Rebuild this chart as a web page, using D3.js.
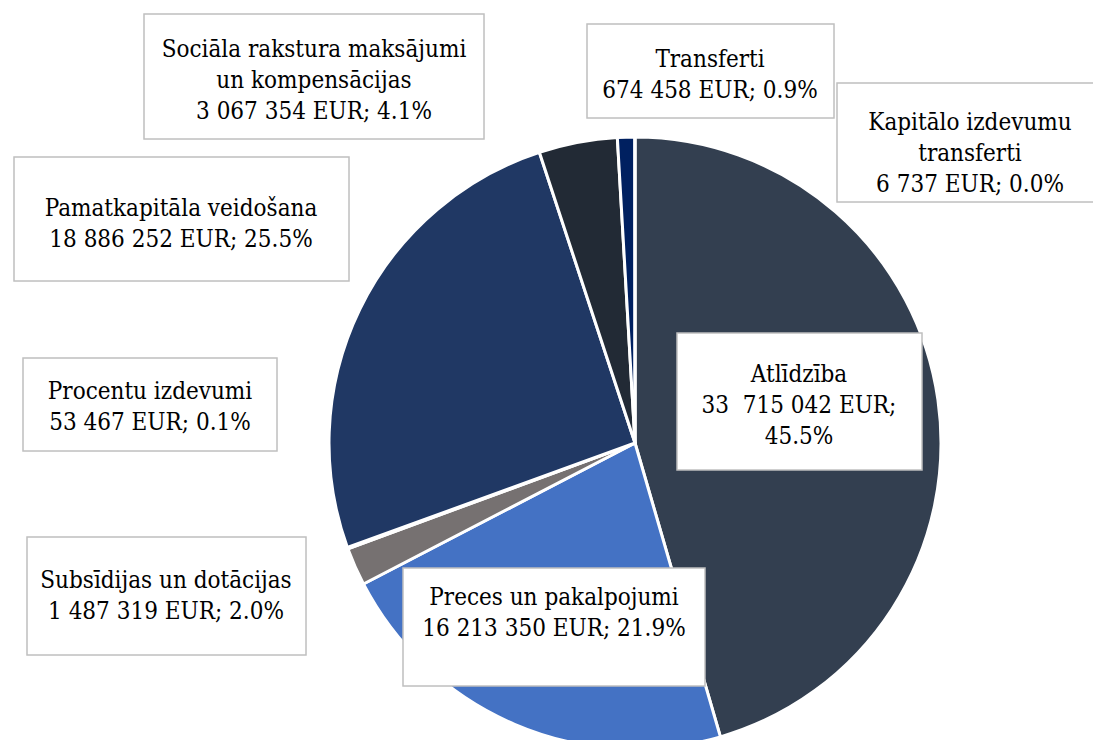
<!DOCTYPE html>
<html>
<head>
<meta charset="utf-8">
<script src="https://cdn.jsdelivr.net/npm/d3@7"></script>
<style>
  html, body { margin: 0; padding: 0; background: #ffffff; }
  svg { display: block; }
  .lbl { font-family: "DejaVu Serif Condensed", "DejaVu Serif", serif; font-stretch: condensed; font-size: 24px; fill: #000000; }
</style>
</head>
<body>
<svg id="chart" width="1093" height="740"></svg>
<script>
// ---- data ----
const categories = [
  "Atlīdzība",
  "Preces un pakalpojumi",
  "Subsīdijas un dotācijas",
  "Procentu izdevumi",
  "Pamatkapitāla veidošana",
  "Sociāla rakstura maksājumi un kompensācijas",
  "Transferti",
  "Kapitālo izdevumu transferti"
];
const values = [33715042, 16213350, 1487319, 53467, 18886252, 3067354, 674458, 6737];
const valueLabels = ["33  715 042", "16 213 350", "1 487 319", "53 467", "18 886 252", "3 067 354", "674 458", "6 737"];
const percentLabels = ["45.5%", "21.9%", "2.0%", "0.1%", "25.5%", "4.1%", "0.9%", "0.0%"];
const colors = ["#333f50", "#4472c4", "#767171", "#595959", "#203864", "#222a35", "#002060", "#8faadc"];

// ---- label layout (box and text lines) ----
const labelLayout = [
  { box: [677, 333, 245, 137], cx: 799, base: 382, lines: ["Atlīdzība", "33  715 042 EUR;", "45.5%"] },
  { box: [403, 568, 302, 118], cx: 554, base: 605, lines: ["Preces un pakalpojumi", "16 213 350 EUR; 21.9%"] },
  { box: [27, 537, 279, 118], cx: 166, base: 588, lines: ["Subsīdijas un dotācijas", "1 487 319 EUR; 2.0%"] },
  { box: [23, 358, 254, 93], cx: 150, base: 399, lines: ["Procentu izdevumi", "53 467 EUR; 0.1%"] },
  { box: [14, 157, 335, 124], cx: 181, base: 216, lines: ["Pamatkapitāla veidošana", "18 886 252 EUR; 25.5%"] },
  { box: [144, 14, 340, 125], cx: 314, base: 57, lines: ["Sociāla rakstura maksājumi", "un kompensācijas", "3 067 354 EUR; 4.1%"] },
  { box: [587, 24, 247, 94], cx: 710, base: 67, lines: ["Transferti", "674 458 EUR; 0.9%"] },
  { box: [837, 83, 270, 119], cx: 970, base: 130, lines: ["Kapitālo izdevumu", "transferti", "6 737 EUR; 0.0%"] }
];

const svg = d3.select("#chart");
const cx = 635, cy = 443, r = 306;

const pie = d3.pie().sort(null).value(d => d)(values);
const arc = d3.arc().innerRadius(0).outerRadius(r);

const g = svg.append("g").attr("transform", `translate(${cx},${cy})`);
g.selectAll("path.slice")
  .data(pie)
  .enter().append("path")
  .attr("class", "slice")
  .attr("d", arc)
  .attr("fill", (d, i) => colors[i])
  .attr("stroke", "#ffffff")
  .attr("stroke-width", 3)
  .attr("stroke-linejoin", "round");

const lg = svg.append("g");
labelLayout.forEach((L, i) => {
  const grp = lg.append("g");
  grp.append("rect")
    .attr("x", L.box[0]).attr("y", L.box[1])
    .attr("width", L.box[2]).attr("height", L.box[3])
    .attr("fill", "#ffffff")
    .attr("stroke", "#bfbfbf")
    .attr("stroke-width", 1.5);
  const t = grp.append("text")
    .attr("class", "lbl")
    .attr("text-anchor", "middle")
    .style("white-space", "pre");
  L.lines.forEach((ln, k) => {
    t.append("tspan")
      .attr("x", L.cx)
      .attr("y", L.base + k * 31)
      .text(ln);
  });
});
</script>
</body>
</html>
